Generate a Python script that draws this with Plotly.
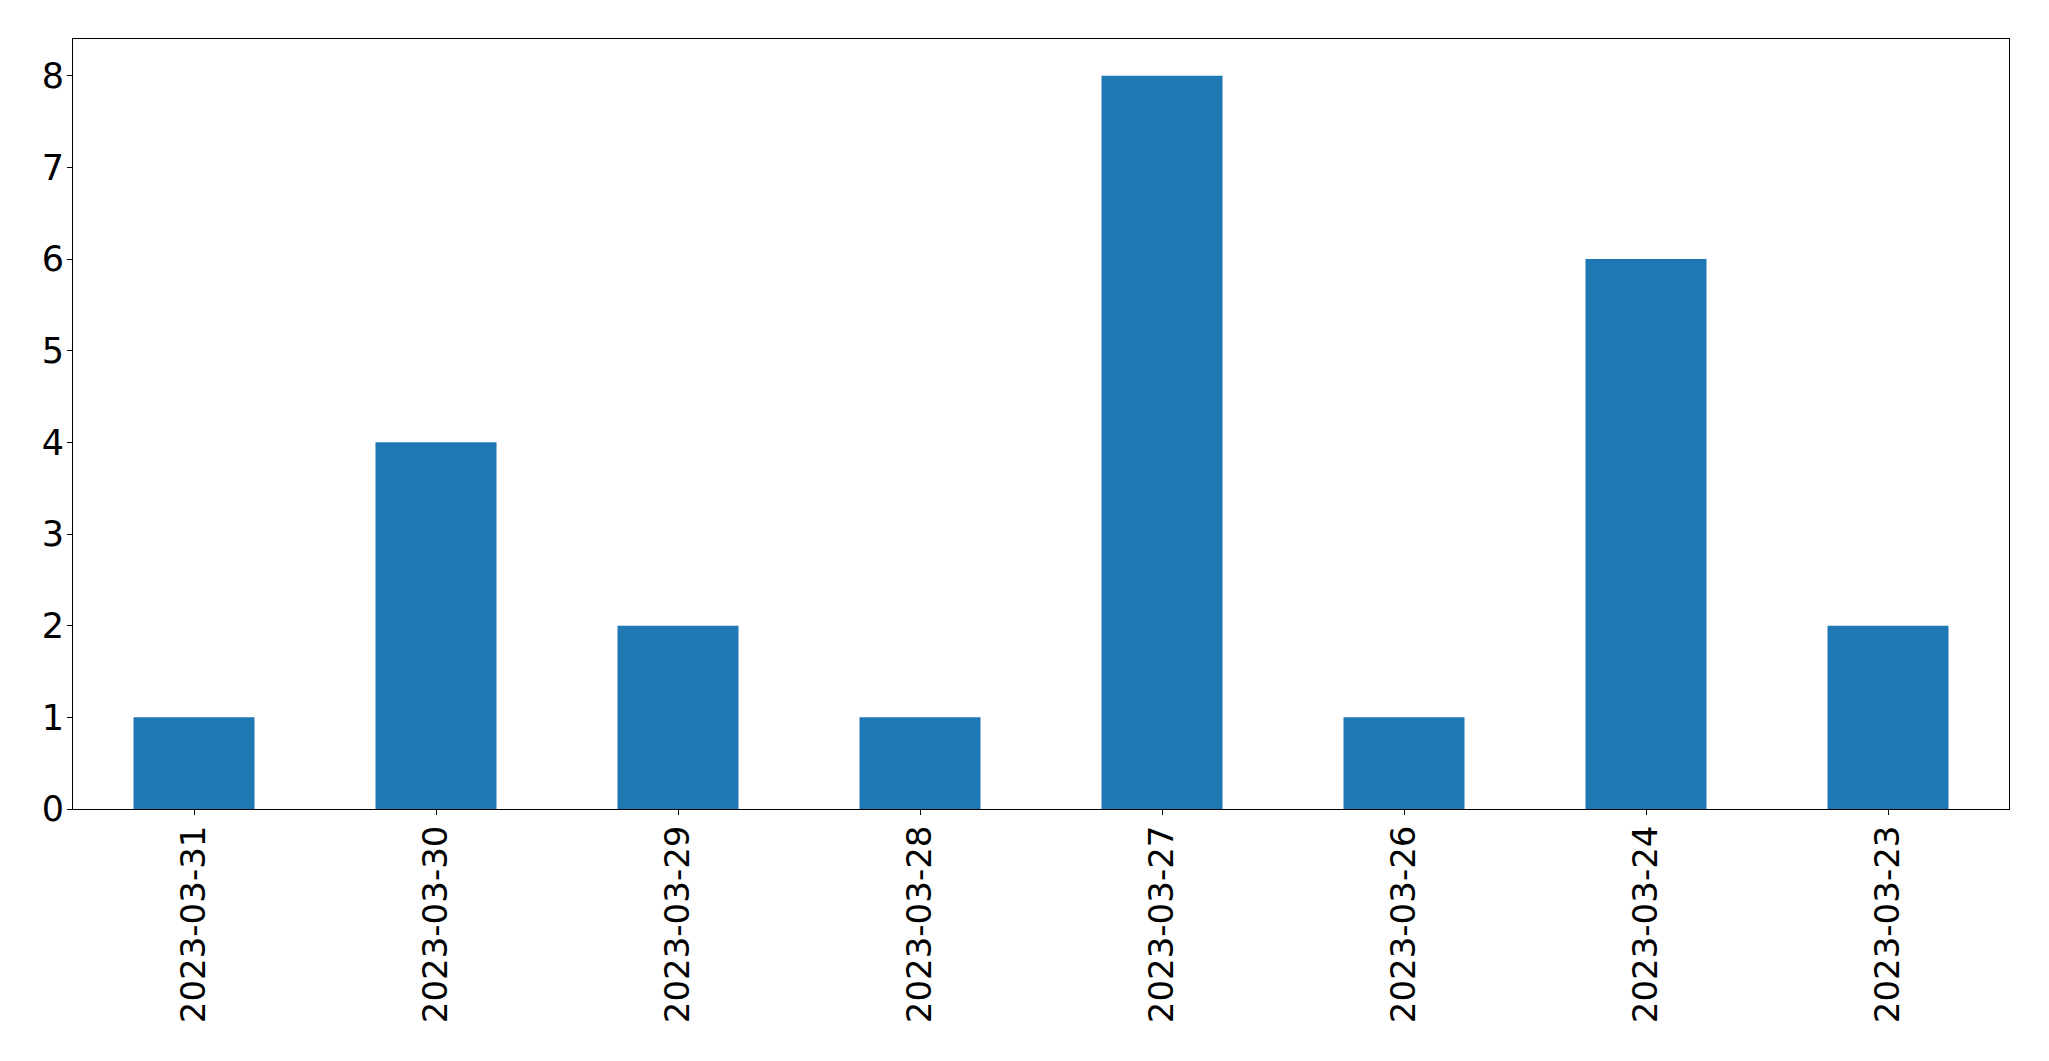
import plotly.graph_objects as go

dates = ["2023-03-31", "2023-03-30", "2023-03-29", "2023-03-28",
         "2023-03-27", "2023-03-26", "2023-03-24", "2023-03-23"]
counts = [1, 4, 2, 1, 8, 1, 6, 2]
y_ticks = [0, 1, 2, 3, 4, 5, 6, 7, 8]

fig = go.Figure(go.Bar(
    x=list(range(len(dates))),
    y=counts,
    width=0.5,
    marker=dict(color="#1f77b4", line=dict(width=0)),
))

axis_common = dict(
    showline=True, linecolor="black", linewidth=1, mirror=True,
    showgrid=False, zeroline=False, automargin=False,
    ticks="outside", ticklen=5, tickwidth=1, tickcolor="black",
)

fig.update_layout(
    width=2049, height=1061,
    margin=dict(l=65, r=48, t=31, b=260),
    paper_bgcolor="white", plot_bgcolor="white",
    showlegend=False,
    xaxis=dict(
        range=[-0.5, len(dates) - 0.5],
        tickmode="array",
        tickvals=list(range(len(dates))),
        ticktext=dates,
        tickangle=-90,
        ticklabelstandoff=-3,
        tickfont=dict(family="DejaVu Sans", size=34, color="black"),
        **axis_common,
    ),
    yaxis=dict(
        range=[0, 8.4],
        tickmode="array",
        tickvals=y_ticks,
        ticktext=[str(v) for v in y_ticks],
        ticklabelstandoff=-4,
        tickfont=dict(family="DejaVu Sans", size=35, color="black"),
        **axis_common,
    ),
)

fig.write_html("out.html")
